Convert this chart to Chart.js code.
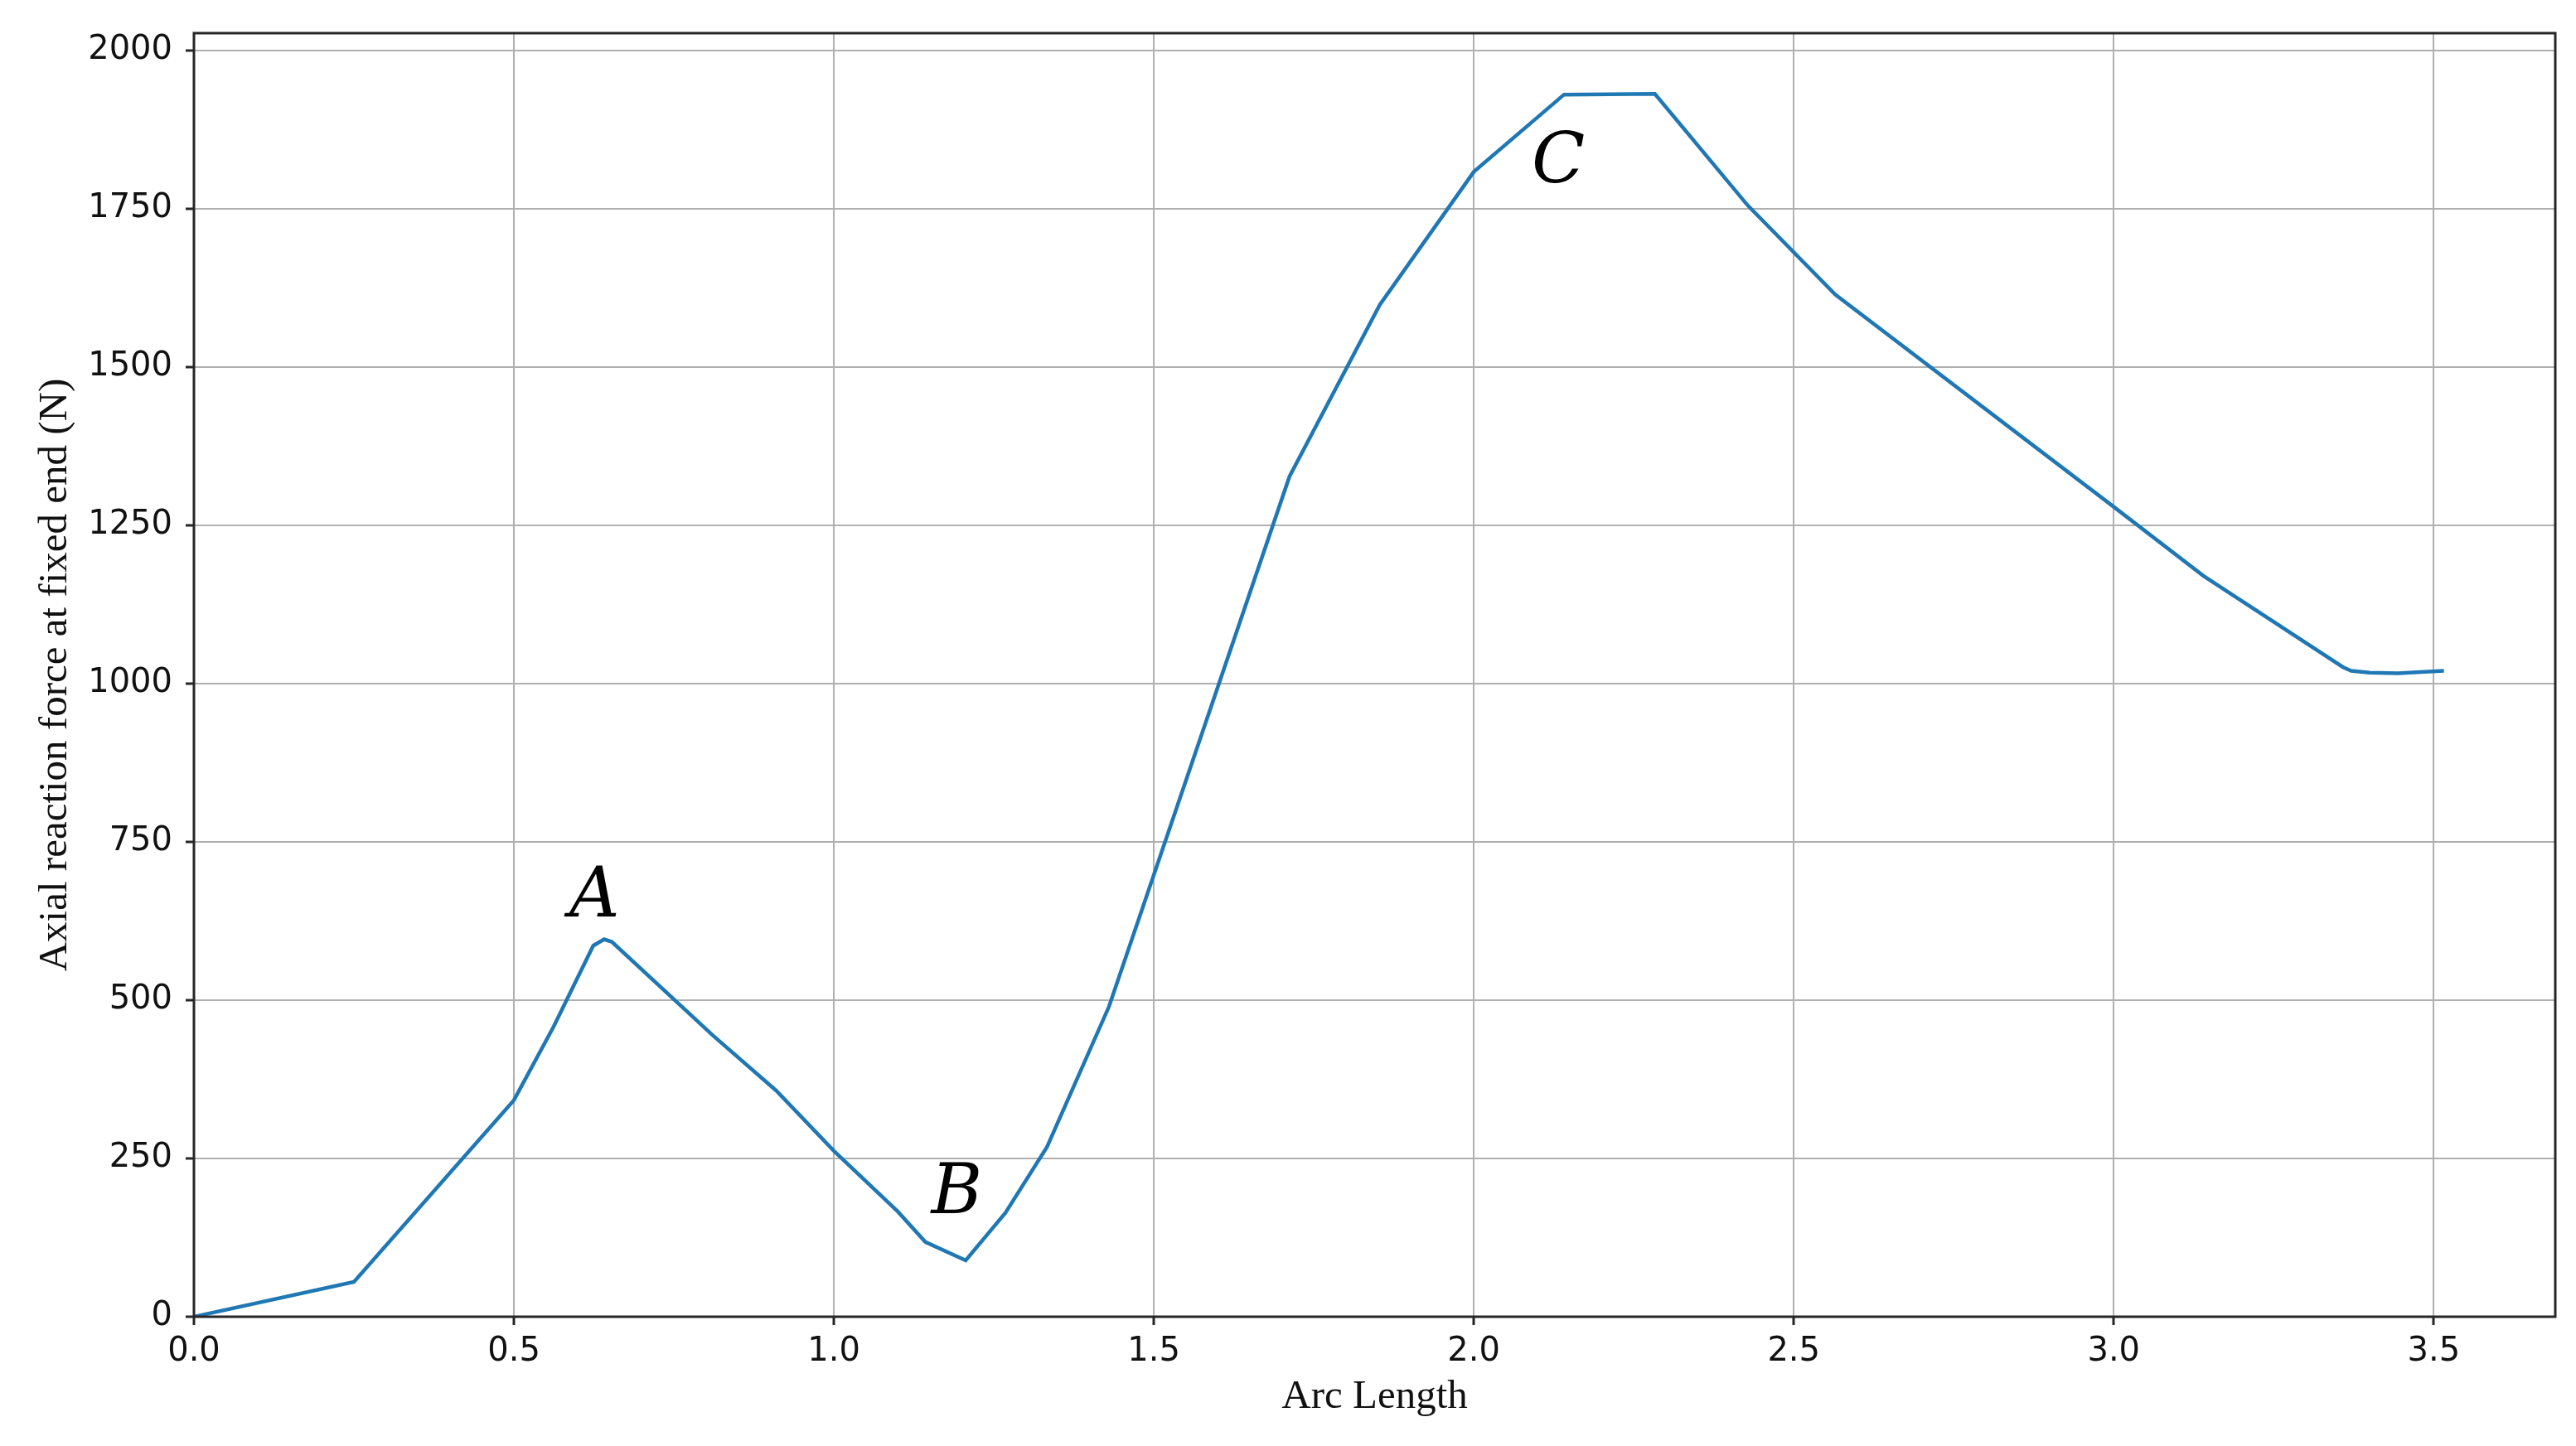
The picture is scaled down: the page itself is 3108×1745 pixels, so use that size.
<!DOCTYPE html>
<html>
<head>
<meta charset="utf-8">
<title>Axial reaction force vs arc length</title>
<script src="https://cdn.jsdelivr.net/npm/chart.js@4.4.1/dist/chart.umd.min.js"></script>
<style>
  html, body { margin: 0; padding: 0; background: #ffffff; }
  #forceChart { display: block; }
</style>
</head>
<body>
<canvas id="forceChart" width="3108" height="1745"></canvas>
<script>
// Values
const arcLength = [0, 0.25, 0.5, 0.562, 0.624, 0.641, 0.653, 0.81, 0.91, 1.0, 1.10, 1.143,
  1.206, 1.268, 1.333, 1.43, 1.712, 1.853, 2.0, 2.141, 2.283, 2.428, 2.565, 3.0, 3.14,
  3.358, 3.371, 3.40, 3.444, 3.516];
const axialForce = [0, 55, 342, 458, 586, 596, 592, 445, 357, 262, 166, 118,
  89, 164, 268, 490, 1327, 1598, 1808, 1930, 1931, 1755, 1614, 1279, 1170,
  1026, 1020, 1017, 1016, 1020];

// Tick values
const xTickValues = [0, 0.5, 1.0, 1.5, 2.0, 2.5, 3.0, 3.5];
const yTickValues = [0, 250, 500, 750, 1000, 1250, 1500, 1750, 2000];

// Point labels (text + position in data units, at the baseline)
const markLabels = ['A', 'B', 'C'];
const markX = [0.626, 1.192, 2.132];
const markY = [632, 164, 1791];

const points = arcLength.map(function(x, i) {
  return { x: x, y: axialForce[i] };
});

// Frame around the plot area + A/B/C labels
const framePlugin = {
  id: 'frameAndMarks',
  afterDraw: function(chart) {
    const ctx = chart.ctx;
    const area = chart.chartArea;
    const xs = chart.scales.x;
    const ys = chart.scales.y;

    ctx.save();
    ctx.font = 'italic 84px "DejaVu Serif"';
    ctx.fillStyle = '#000000';
    ctx.textAlign = 'center';
    ctx.textBaseline = 'alphabetic';
    markLabels.forEach(function(t, i) {
      ctx.fillText(t, xs.getPixelForValue(markX[i]), ys.getPixelForValue(markY[i]));
    });

    ctx.strokeStyle = '#262626';
    ctx.lineWidth = 3;
    ctx.strokeRect(area.left, area.top, area.right - area.left, area.bottom - area.top);
    ctx.restore();
  }
};

const tickFont = { family: '"DejaVu Sans"', size: 40 };
const titleFont = { family: '"Liberation Serif"', size: 49 };

new Chart(document.getElementById('forceChart'), {
  type: 'line',
  data: {
    datasets: [{
      data: points,
      borderColor: '#1f77b4',
      borderWidth: 4.5,
      pointRadius: 0,
      tension: 0,
      fill: false
    }]
  },
  options: {
    responsive: false,
    devicePixelRatio: 1,
    animation: false,
    // chart.js adds 6px on top by itself, so 28 gives a plot top at 34
    layout: { padding: { top: 28, right: 25, left: 0, bottom: 0 } },
    plugins: {
      legend: { display: false },
      tooltip: { enabled: false }
    },
    scales: {
      x: {
        type: 'linear',
        min: 0,
        max: 3.69,
        afterBuildTicks: function(scale) {
          scale.ticks = xTickValues.map(function(v) { return { value: v }; });
        },
        afterFit: function(scale) { scale.height = 156; },
        border: { display: false },
        grid: {
          color: '#b0b0b0',
          lineWidth: 2,
          tickColor: '#262626',
          tickLength: 10,
          tickWidth: 3
        },
        ticks: {
          maxRotation: 0,
          autoSkip: false,
          padding: 9,
          color: '#111111',
          font: tickFont,
          callback: function(v) { return Number(v).toFixed(1); }
        },
        title: {
          display: true,
          text: 'Arc Length',
          color: '#111111',
          font: titleFont,
          padding: { top: 0, bottom: 29 }
        }
      },
      y: {
        type: 'linear',
        min: 0,
        max: 2027,
        afterBuildTicks: function(scale) {
          scale.ticks = yTickValues.map(function(v) { return { value: v }; });
        },
        afterFit: function(scale) { scale.width = 234; },
        border: { display: false },
        grid: {
          color: '#b0b0b0',
          lineWidth: 2,
          tickColor: '#262626',
          tickLength: 10,
          tickWidth: 3
        },
        ticks: {
          autoSkip: false,
          padding: 16,
          color: '#111111',
          font: tickFont,
          callback: function(v) { return String(v); }
        },
        title: {
          display: true,
          text: 'Axial reaction force at fixed end (N)',
          color: '#111111',
          font: titleFont,
          padding: { top: 38, bottom: 0 }
        }
      }
    }
  },
  plugins: [framePlugin]
});
</script>
</body>
</html>
